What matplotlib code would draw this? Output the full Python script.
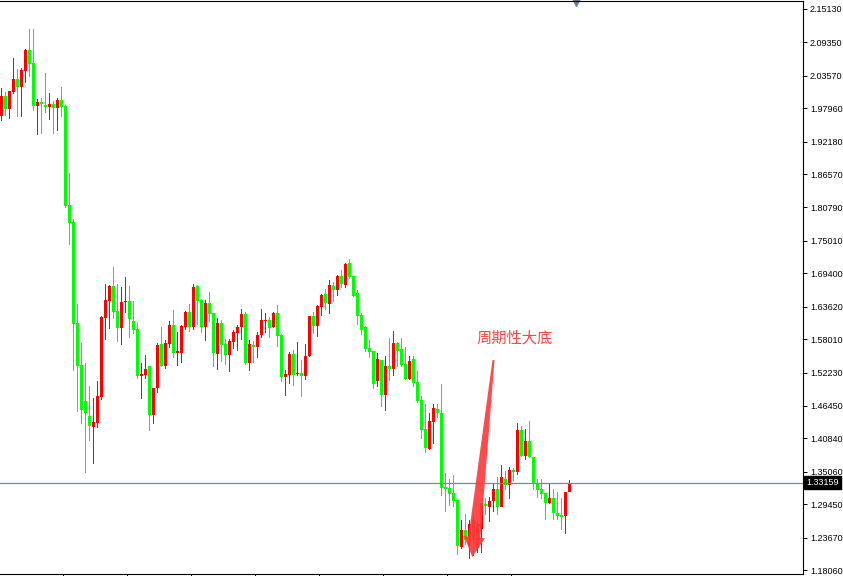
import numpy as np
import matplotlib
matplotlib.use("Agg")
import matplotlib.pyplot as plt
from matplotlib.patches import Polygon
from matplotlib.transforms import IdentityTransform, blended_transform_factory

# daily candles (oldest first)
opens = [
    1.9662, 2.0008, 1.9783, 2.0077, 2.0302, 2.0164, 2.0441, 2.0804, 2.0579, 1.9835,
    1.9904, 1.9852, 1.9818, 1.9869, 1.9800, 1.9939, 1.9835, 1.8121, 1.7827, 1.6080,
    1.5354, 1.4731, 1.4471, 1.4280, 1.4349, 1.4800, 1.6167, 1.6461, 1.6720, 1.6288,
    1.5994, 1.6444, 1.6461, 1.6115, 1.5976, 1.5163, 1.5180, 1.5336, 1.4488, 1.4956,
    1.5717, 1.5336, 1.5717, 1.6045, 1.5561, 1.5561, 1.6011, 1.6270, 1.6011, 1.6720,
    1.6478, 1.6011, 1.6426, 1.6253, 1.5544, 1.6080, 1.5717, 1.5526, 1.5751, 1.5907,
    1.6011, 1.6236, 1.5388, 1.5700, 1.5665, 1.5873, 1.6115, 1.6132, 1.6011, 1.6253,
    1.5873, 1.5146, 1.5180, 1.5544, 1.5198, 1.5215, 1.5163, 1.5509, 1.6201, 1.6028,
    1.6357, 1.6582, 1.6409, 1.6720, 1.6651, 1.6893, 1.6738, 1.7118, 1.6893, 1.6599,
    1.6218, 1.6011, 1.5648, 1.5596, 1.5077, 1.5440, 1.4835, 1.5336, 1.5284, 1.5734,
    1.5630, 1.5371, 1.5111, 1.5457, 1.5059, 1.4748, 1.4245, 1.3899, 1.4366, 1.4592,
    1.4523, 1.3242, 1.3225, 1.3138, 1.3017, 1.2204, 1.2498, 1.2239, 1.2325, 1.2187,
    1.2515, 1.2948, 1.2896, 1.2999, 1.3207, 1.2896, 1.3380, 1.3276, 1.3536, 1.3501,
    1.4228, 1.3778, 1.4038, 1.3761, 1.3294, 1.3207, 1.3138, 1.2965, 1.3052, 1.2792,
    1.2757, 1.2740, 1.3155]
highs = [
    2.0147, 2.0077, 2.0095, 2.0666, 2.0475, 2.0493, 2.0821, 2.1167, 2.1167, 1.9956,
    1.9973, 2.0406, 2.0060, 1.9922, 1.9973, 2.0164, 1.9852, 1.8676, 1.7879, 1.6409,
    1.5734, 1.5388, 1.4990, 1.4783, 1.5077, 1.6201, 1.6755, 1.6738, 1.7049, 1.6755,
    1.6703, 1.6876, 1.6720, 1.6461, 1.6080, 1.5388, 1.5526, 1.5336, 1.4956, 1.5734,
    1.6011, 1.5786, 1.6115, 1.6305, 1.5925, 1.6045, 1.6288, 1.6409, 1.6755, 1.6738,
    1.6495, 1.6478, 1.6616, 1.6253, 1.6167, 1.6132, 1.5803, 1.5803, 1.5959, 1.6045,
    1.6322, 1.6270, 1.5786, 1.5769, 1.5925, 1.6322, 1.6253, 1.6184, 1.6270, 1.6392,
    1.5890, 1.5267, 1.5578, 1.5613, 1.5751, 1.5440, 1.5717, 1.6201, 1.6270, 1.6392,
    1.6582, 1.6668, 1.6824, 1.6789, 1.6911, 1.6997, 1.7118, 1.7187, 1.6893, 1.6651,
    1.6253, 1.6028, 1.5786, 1.5596, 1.5561, 1.5440, 1.5509, 1.5821, 1.5942, 1.5751,
    1.5821, 1.5665, 1.5509, 1.5509, 1.5250, 1.4817, 1.4679, 1.4523, 1.4679, 1.4679,
    1.5025, 1.3484, 1.3380, 1.3449, 1.3017, 1.2671, 1.2775, 1.2671, 1.2757, 1.2671,
    1.2965, 1.3052, 1.3069, 1.3294, 1.3415, 1.3622, 1.3519, 1.3588, 1.3570, 1.4349,
    1.4297, 1.4245, 1.4384, 1.3761, 1.3380, 1.3380, 1.3138, 1.3311, 1.3207, 1.3155,
    1.3052, 1.3155, 1.3363]
lows = [
    1.9576, 1.9662, 1.9610, 2.0043, 1.9645, 1.9645, 2.0233, 2.0337, 1.9749, 1.9333,
    1.9351, 1.9714, 1.9593, 1.9351, 1.9403, 1.9645, 1.8070, 1.7429, 1.5250, 1.4540,
    1.4332, 1.3484, 1.4038, 1.3640, 1.4262, 1.4748, 1.5786, 1.5976, 1.6149, 1.5751,
    1.5700, 1.6253, 1.5821, 1.5890, 1.5111, 1.4765, 1.5111, 1.4211, 1.4332, 1.4869,
    1.5319, 1.5284, 1.5648, 1.5475, 1.5336, 1.5388, 1.5959, 1.5925, 1.5959, 1.6045,
    1.5907, 1.5769, 1.6097, 1.5319, 1.5267, 1.5406, 1.5354, 1.5232, 1.5630, 1.5596,
    1.5786, 1.5354, 1.5250, 1.5388, 1.5475, 1.5821, 1.5907, 1.5821, 1.5994, 1.5665,
    1.5059, 1.4817, 1.5025, 1.4990, 1.5163, 1.4800, 1.5094, 1.5492, 1.5890, 1.5838,
    1.6201, 1.6305, 1.6236, 1.6444, 1.6547, 1.6686, 1.6686, 1.6841, 1.6530, 1.6045,
    1.5873, 1.5578, 1.5475, 1.4938, 1.4973, 1.4627, 1.4558, 1.5077, 1.5163, 1.5319,
    1.5319, 1.5094, 1.5094, 1.4973, 1.4696, 1.4073, 1.3830, 1.3882, 1.3986, 1.4436,
    1.3086, 1.2809, 1.2913, 1.2896, 1.2065, 1.2169, 1.2239, 1.1996, 1.2048, 1.2100,
    1.2100, 1.2757, 1.2636, 1.2809, 1.2757, 1.3034, 1.3190, 1.3034, 1.3346, 1.3449,
    1.3761, 1.3709, 1.3744, 1.3190, 1.3052, 1.3034, 1.2671, 1.2948, 1.2671, 1.2671,
    1.2498, 1.2429, 1.3155]
closes = [
    2.0008, 1.9783, 2.0095, 2.0302, 2.0164, 2.0458, 2.0804, 2.0562, 1.9835, 1.9904,
    1.9869, 1.9818, 1.9869, 1.9800, 1.9939, 1.9818, 1.8104, 1.7810, 1.6063, 1.5336,
    1.4575, 1.4523, 1.4297, 1.4366, 1.4817, 1.6184, 1.6478, 1.6720, 1.6270, 1.5994,
    1.6444, 1.6461, 1.6149, 1.5959, 1.5163, 1.5198, 1.5284, 1.4488, 1.4956, 1.5700,
    1.5336, 1.5734, 1.6045, 1.5561, 1.5596, 1.6028, 1.6270, 1.6011, 1.6703, 1.6461,
    1.6011, 1.6426, 1.6236, 1.5561, 1.6080, 1.5700, 1.5526, 1.5769, 1.5925, 1.6011,
    1.6236, 1.5388, 1.5717, 1.5665, 1.5873, 1.6132, 1.6132, 1.5994, 1.6253, 1.5855,
    1.5146, 1.5198, 1.5544, 1.5180, 1.5215, 1.5163, 1.5509, 1.6201, 1.6028, 1.6374,
    1.6565, 1.6426, 1.6738, 1.6651, 1.6893, 1.6755, 1.7101, 1.6876, 1.6547, 1.6201,
    1.5959, 1.5630, 1.5578, 1.5025, 1.5457, 1.4835, 1.5336, 1.5284, 1.5734, 1.5596,
    1.5354, 1.5111, 1.5423, 1.5042, 1.4731, 1.4228, 1.3917, 1.4384, 1.4610, 1.4523,
    1.3225, 1.3207, 1.3121, 1.2999, 1.2221, 1.2498, 1.2325, 1.2602, 1.2671, 1.2602,
    1.2965, 1.2913, 1.2999, 1.3207, 1.2896, 1.3415, 1.3276, 1.3536, 1.3501, 1.4228,
    1.3778, 1.4038, 1.3761, 1.3294, 1.3190, 1.3121, 1.2965, 1.3052, 1.2792, 1.2740,
    1.2723, 1.3155, 1.33159]

price_ticks = [2.15130, 2.09350, 2.03570, 1.97960, 1.92180, 1.86570, 1.80790, 1.75010,
               1.69400, 1.63620, 1.58010, 1.52230, 1.46450, 1.40840, 1.35060, 1.29450,
               1.23670, 1.18060]
last_price = 1.33159
label_text = "周期性大底"

UP = "#ff0000"
DOWN = "#00ff00"

o = np.array(opens)
h = np.array(highs)
l = np.array(lows)
c = np.array(closes)
idx = np.arange(len(o))
up = c >= o
cols = np.where(up, UP, DOWN)

fig = plt.figure(figsize=(8.43, 5.76), dpi=100)
ax = fig.add_axes([0, 2 / 576, 803 / 843, 573 / 576])
ax.set_xlim(-0.375, 200.375)
ax.set_ylim(1.17368, 2.16514)

# wicks (1px wide bars) then bodies (3px)
ax.bar(idx, h - l, bottom=l, width=0.25, color=cols, linewidth=0,
       antialiased=False, zorder=2)
body_lo = np.minimum(o, c)
body_h = np.maximum(np.abs(c - o), 0.0018)
ax.bar(idx, body_h, bottom=body_lo, width=0.75, color=cols, linewidth=0,
       antialiased=False, zorder=3)

# current price line + label
ax.axhline(last_price, color="#778899", linewidth=0.9, zorder=4)
bt = blended_transform_factory(ax.transAxes, ax.transData)
ax.text(1.004, last_price, f"{last_price:.5f}", transform=bt, color="white",
        fontsize=6.5, family="Liberation Sans", va="center", ha="left",
        bbox=dict(facecolor="black", edgecolor="black", pad=1.3), clip_on=False, zorder=6)

# axes styling
ax.spines["left"].set_visible(False)
for s in ("top", "right", "bottom"):
    ax.spines[s].set_linewidth(0.8)
    ax.spines[s].set_color("black")
ax.yaxis.tick_right()
ax.set_yticks(price_ticks)
ax.set_yticklabels([f"{v:.5f}" for v in price_ticks], family="Liberation Sans")
ax.tick_params(axis="y", direction="out", length=3, width=0.7, pad=2, labelsize=6.5)
ax.set_xticks([15.25 + 16 * k for k in range(8)])
ax.set_xticklabels([])
ax.tick_params(axis="x", direction="out", length=3, width=0.7)

# shift marker at the top
ax.plot([143.5], [1.0], marker="v", markersize=7, color="#6f8090",
        transform=blended_transform_factory(ax.transData, ax.transAxes), clip_on=False)

# annotation text and arrow
ax.text(128.25, 1.582, label_text, color="#ff4444", fontsize=11,
        family=["Noto Sans CJK SC", "DejaVu Sans"], ha="center", va="center", zorder=7)

p0 = ax.transData.transform((123.0, 1.544))
p1 = ax.transData.transform((117.7, 1.203))
u = (p1 - p0) / np.hypot(*(p1 - p0))
n = np.array([-u[1], u[0]])
head_len, head_w, shaft_w, tail_w = 20, 10.5, 6, 1.0
base = p1 - u * head_len
pts = [p0 + n * tail_w, base + n * shaft_w, base + n * head_w, p1,
       base - n * head_w, base - n * shaft_w, p0 - n * tail_w]
fig.patches.append(Polygon(pts, closed=True, transform=IdentityTransform(),
                           facecolor="#ff3c3c", edgecolor="none", alpha=0.92, zorder=8))

fig.savefig("out.png", dpi=100)
